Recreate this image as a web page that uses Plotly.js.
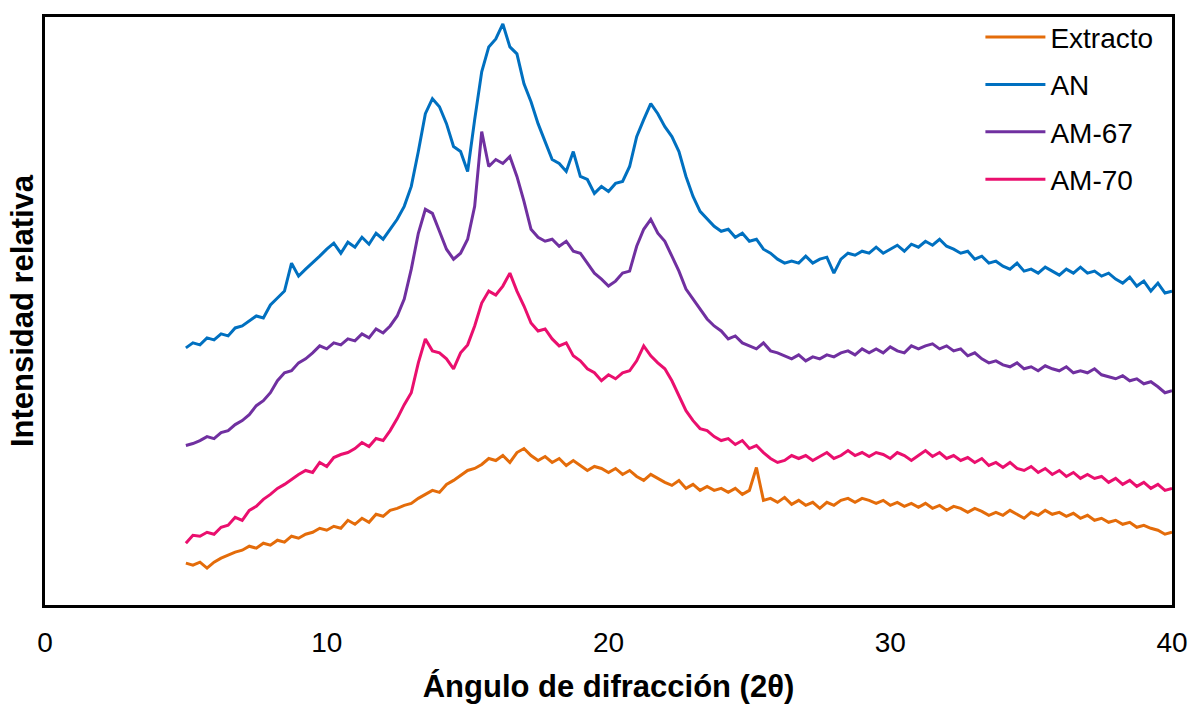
<!DOCTYPE html>
<html>
<head>
<meta charset="utf-8">
<script src="https://cdn.plot.ly/plotly-3.0.1.min.js"></script>
<style>html,body{margin:0;padding:0;background:#fff;}#chart{width:1194px;height:704px;}</style>
</head>
<body>
<div id="chart"></div>
<script>
const angles = [5,5.25,5.5,5.75,6,6.25,6.5,6.75,7,7.25,7.5,7.75,8,8.25,8.5,8.75,9,9.25,9.5,9.75,10,10.25,10.5,10.75,11,11.25,11.5,11.75,12,12.25,12.5,12.75,13,13.25,13.5,13.75,14,14.25,14.5,14.75,15,15.25,15.5,15.75,16,16.25,16.5,16.75,17,17.25,17.5,17.75,18,18.25,18.5,18.75,19,19.25,19.5,19.75,20,20.25,20.5,20.75,21,21.25,21.5,21.75,22,22.25,22.5,22.75,23,23.25,23.5,23.75,24,24.25,24.5,24.75,25,25.25,25.5,25.75,26,26.25,26.5,26.75,27,27.25,27.5,27.75,28,28.25,28.5,28.75,29,29.25,29.5,29.75,30,30.25,30.5,30.75,31,31.25,31.5,31.75,32,32.25,32.5,32.75,33,33.25,33.5,33.75,34,34.25,34.5,34.75,35,35.25,35.5,35.75,36,36.25,36.5,36.75,37,37.25,37.5,37.75,38,38.25,38.5,38.75,39,39.25,39.5,39.75,40];

const extracto = [37,35,38,32, 38,42,45,48, 50,54,52,57, 55,60,58,64, 62,66,68,72, 70,74,72,80, 76,82,78,86, 84,90,92,95, 97,102,106,110, 108,116,120,125, 130,132,136,142, 140,145,138,148, 152,145,140,144, 138,142,135,140, 135,130,134,132, 128,132,126,130, 124,120,126,122, 118,115,120,112, 116,110,114,110, 112,108,112,106, 110,133,100,102, 98,103,96,100, 95,98,92,98, 95,100,102,98, 102,100,97,100, 95,98,94,97, 93,97,92,95, 90,94,92,88, 92,89,85,88, 85,90,86,82, 88,85,90,86, 88,84,87,82, 85,80,82,78, 80,76,78,73, 75,72,70,66, 68];

const an = [253,258,256,263, 261,267,265,273, 275,280,285,283, 296,303,310,338, 325,332,338,345, 352,358,348,359, 354,364,357,368, 362,372,382,395, 415,450,488,503, 495,478,455,450, 430,482,530,555, 563,578,555,548, 518,500,478,460, 442,438,430,450, 425,422,408,415, 410,418,420,435, 465,482,498,488, 475,465,450,425, 405,390,382,375, 370,372,364,368, 360,362,352,348, 342,338,340,338, 345,338,342,344, 328,342,348,346, 350,348,354,348, 352,356,350,357, 354,360,356,362, 355,352,348,350, 342,345,338,340, 335,332,338,330, 332,328,334,330, 326,332,328,334, 328,330,325,328, 322,318,324,315, 320,310,318,308, 310];

const am67 = [155,157,160,164, 162,168,170,176, 180,186,195,200, 208,220,228,230, 238,242,248,255, 252,258,256,262, 260,267,263,272, 268,275,285,302, 332,368,392,388, 370,352,342,348, 362,395,470,435, 442,438,445,425, 400,372,364,360, 362,355,360,350, 348,338,328,322, 315,320,328,330, 355,372,382,368, 360,345,330,312, 302,292,282,275, 270,262,265,258, 255,252,258,250, 248,245,242,246, 240,244,242,246, 244,248,250,246, 252,248,252,248, 254,250,248,255, 252,255,257,252, 255,250,252,245, 248,242,238,240, 236,234,238,232, 234,230,235,232, 230,234,228,230, 228,232,226,224, 222,225,220,222, 217,219,214,208, 210];

const am70 = [57,65,64,68, 66,73,75,83, 80,90,94,101, 106,112,116,121, 126,130,128,138, 134,143,146,148, 152,158,154,162, 160,170,182,196, 208,238,262,250, 248,242,232,248, 256,275,298,310, 306,315,328,310, 295,278,270,272, 262,255,258,245, 240,232,228,220, 226,222,228,230, 240,255,245,238, 232,220,205,190, 180,172,170,164, 160,162,156,160, 152,155,148,142, 138,140,145,142, 145,140,144,148, 142,145,150,145, 148,144,148,146, 142,148,145,140, 145,150,144,148, 142,145,140,143, 138,142,135,138, 133,138,132,130, 134,128,132,126, 130,124,128,122, 126,122,124,118, 122,116,120,114, 118,112,116,110, 112];

const seriesNames = ['Extracto','AN','AM-67','AM-70'];
const seriesValues = [extracto, an, am67, am70];
const seriesColors = ['#E46C0A','#0070C0','#7030A0','#EA0F6E'];
const xTicks = [0,10,20,30,40];

const FONT = 'Liberation Sans, Arial, sans-serif';

const traces = seriesNames.map((name, i) => ({
  type: 'scatter',
  mode: 'lines',
  name: name,
  legendgroup: name,
  x: angles,
  y: seriesValues[i],
  line: {color: seriesColors[i], width: 3}
}));

const layout = {
  width: 1194,
  height: 704,
  margin: {l: 45, r: 22, t: 15, b: 99},
  paper_bgcolor: '#ffffff',
  plot_bgcolor: '#ffffff',
  showlegend: true,
  legend: {
    x: 0.83, xanchor: 'left',
    y: 1.008, yanchor: 'top',
    bgcolor: 'rgba(0,0,0,0)',
    font: {family: FONT, size: 28, color: '#000'},
    traceorder: 'grouped',
    tracegroupgap: 8,
    itemwidth: 60
  },
  xaxis: {
    range: [0, 40],
    tickvals: xTicks,
    ticktext: xTicks.map(String),
    ticks: '',
    ticklabelstandoff: 10,
    showgrid: false,
    zeroline: false,
    showline: true,
    mirror: true,
    linecolor: '#000',
    linewidth: 3,
    tickfont: {family: FONT, size: 28, color: '#000'},
    title: {text: '<b>Ángulo de difracción (2θ)</b>', font: {family: FONT, size: 31, color: '#000'}, standoff: 19},
    automargin: false
  },
  yaxis: {
    range: [-5, 585],
    showticklabels: false,
    ticks: '',
    showgrid: false,
    zeroline: false,
    showline: true,
    mirror: true,
    linecolor: '#000',
    linewidth: 3,
    title: {text: '<b>Intensidad relativa</b>', font: {family: FONT, size: 31, color: '#000'}, standoff: 0},
    automargin: false
  }
};

Plotly.newPlot('chart', traces, layout, {displayModeBar: false, staticPlot: true});
</script>
</body>
</html>
